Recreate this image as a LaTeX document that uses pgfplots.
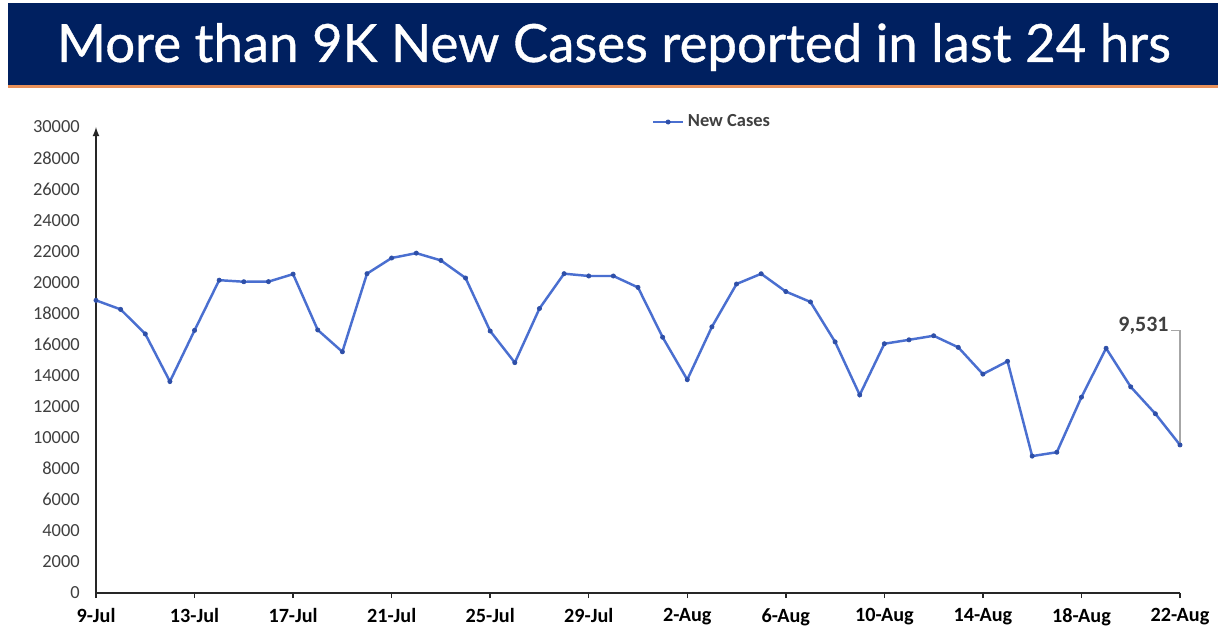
\documentclass[border=0pt]{standalone}
\usepackage{fontspec}
\setmainfont{Carlito}
\newfontface\titlefont{Lato}[FakeBold=0.7]
\usepackage{pgfplots}
\pgfplotsset{compat=1.18}
\definecolor{banner}{HTML}{002060}
\definecolor{orangeline}{HTML}{E9915A}
\definecolor{lineblue}{HTML}{4A6FD0}
\definecolor{markblue}{HTML}{2E4FA8}
\definecolor{txtgray}{HTML}{404040}

\pgfplotstableread{
idx cases
0 18840
1 18257
2 16678
3 13615
4 16906
5 20139
6 20038
7 20044
8 20528
9 16935
10 15528
11 20557
12 21566
13 21880
14 21411
15 20279
16 16866
17 14830
18 18313
19 20557
20 20409
21 20408
22 19673
23 16464
24 13734
25 17135
26 19893
27 20551
28 19406
29 18738
30 16167
31 12751
32 16047
33 16299
34 16561
35 15815
36 14092
37 14917
38 8813
39 9062
40 12608
41 15754
42 13272
43 11539
44 9531
}\datatable

\begin{document}
\begin{tikzpicture}
\useasboundingbox (0,0) rectangle (24.5cm,12.64cm);
\fill[white] (0,0) rectangle (24.5cm,12.64cm);
\fill[banner] (0.16cm,10.94cm) rectangle (24.36cm,12.58cm);
\draw[orangeline, line width=1.5pt] (0.16cm,10.91cm) -- (24.36cm,10.91cm);
\node[anchor=base, text=white, inner sep=0pt, font=\titlefont\fontsize{30}{36}\selectfont] at (12.28cm,11.40cm) {More than 9K New Cases reported in last 24 hrs};
\begin{axis}[
  at={(1.92cm,0.78cm)}, anchor=south west,
  scale only axis, width=21.68cm, height=9.32cm,
  xmin=0, xmax=44, ymin=0, ymax=30000,
  clip=false,
  axis lines=left,
  axis line style={draw=black!85, line width=0.8pt},
  x axis line style={-},
  y axis line style={-latex},
  xtick={0,4,...,44},
  xticklabels={9-Jul,13-Jul,17-Jul,21-Jul,25-Jul,29-Jul,2-Aug,6-Aug,10-Aug,14-Aug,18-Aug,22-Aug},
  ytick={0,2000,...,30000},
  scaled y ticks=false,
  /pgf/number format/1000 sep={},
  /pgf/number format/assume math mode=true,
  tick align=outside,
  major tick length=0.1cm,
  xtick style={draw=black!85, line width=0.8pt},
  ytick style={draw=none},
  yticklabel style={font=\fontsize{10.5}{12}\selectfont, text=txtgray, xshift=-0.1cm},
  xticklabel style={font=\bfseries\fontsize{11.5}{13}\selectfont, text=black, yshift=-0.08cm},
  legend style={at={(0.5125,1.0107)}, anchor=west, draw=none, fill=none, inner sep=0pt,
    font=\bfseries\fontsize{10.5}{12}\selectfont, text=txtgray},
]
\addplot[color=lineblue, line width=1.4pt, mark=*, mark size=1.2pt,
  mark options={fill=markblue, draw=markblue, line width=0.4pt}] table[x=idx, y=cases] {\datatable};
\addlegendentry{New Cases}
\draw[gray!70, line width=0.6pt] (axis cs:44,9531) -- (axis cs:44,16900) -- (axis cs:43.65,16900);
\node[anchor=east, inner sep=0pt, yshift=0.1cm, font=\bfseries\fontsize{12.5}{14}\selectfont, text=txtgray] at (axis cs:43.55,16900) {9,531};
\end{axis}
\end{tikzpicture}
\end{document}
